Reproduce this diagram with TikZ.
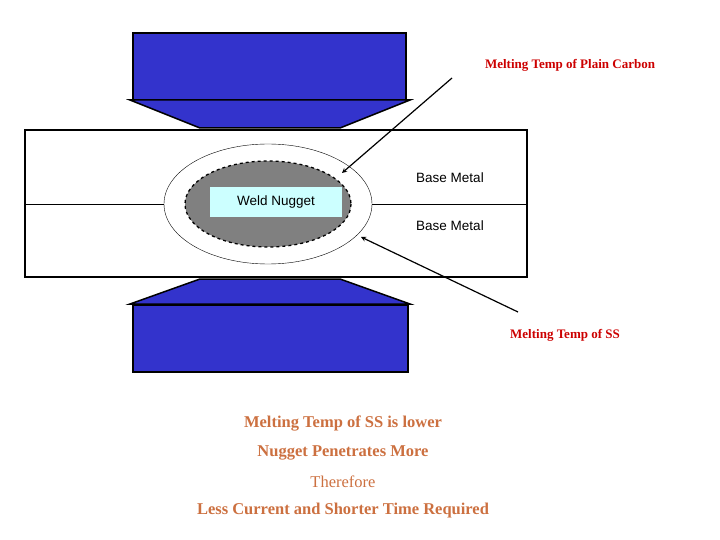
\documentclass[tikz,border=0pt]{standalone}
\usepackage{fontspec}
\setmainfont{Liberation Serif}
\setsansfont{Liberation Sans}
\begin{document}
\begin{tikzpicture}[x=1pt,y=-1pt,
  elec/.style={fill=elblue,draw=black,line width=1.5pt},
  ann/.style={text=annred,font=\bfseries\fontsize{13}{15}\selectfont},
  low/.style={text=lowor,font=\fontsize{16.5}{19}\selectfont},
  lowb/.style={text=lowor,font=\bfseries\fontsize{16.5}{19}\selectfont},
  bm/.style={font=\sffamily\fontsize{13.5}{16}\selectfont}]
\definecolor{elblue}{RGB}{51,51,204}
\definecolor{annred}{RGB}{204,0,0}
\definecolor{lowor}{RGB}{204,112,64}
\useasboundingbox (0,0) rectangle (720,540);
% plate
\draw[line width=1.2pt,fill=white] (25,130) rectangle (527,277);
\draw[line width=1pt] (25,205) -- (527,205);
% electrodes
\draw[elec] (133,33) rectangle (406,100);
\draw[elec] (130,100) -- (410,100) -- (340,128) -- (200,128) -- cycle;
\draw[elec] (200,279) -- (340,279) -- (410,304) -- (130,304) -- cycle;
\draw[elec] (133,305) rectangle (408,372);
% zones
\draw[fill=white,line width=0.4pt] (268,204) ellipse [x radius=104,y radius=60];
\draw[dashed,line width=1.3pt,fill={rgb,255:red,128;green,128;blue,128}] (268,204) ellipse [x radius=83,y radius=43];
\node[fill={rgb,255:red,204;green,255;blue,255},bm,inner sep=2pt,minimum width=132pt,minimum height=30pt] (wn) at (276,202) {Weld Nugget};
\node[bm] (b1) at (450,178) {Base Metal};
\node[bm] (b2) at (450,226) {Base Metal};
% annotations
\node[ann] (mc) at (570,65) {Melting Temp of Plain Carbon};
\node[ann] (ms) at (565,335) {Melting Temp of SS};
\coordinate (a1) at (452,78);
\coordinate (t1) at (342,173);
\coordinate (a2) at (518,312);
\coordinate (t2) at (361,237);
\draw[-stealth,line width=1.2pt] (a1) -- (t1);
\draw[-stealth,line width=1.2pt] (a2) -- (t2);
% bottom text
\node[lowb] (l1) at (343,424) {Melting Temp of SS is lower};
\node[lowb] (l2) at (343,453) {Nugget Penetrates More};
\node[low] (l3) at (343,482) {Therefore};
\node[lowb] (l4) at (343,511) {Less Current and Shorter Time Required};
\end{tikzpicture}
\end{document}
